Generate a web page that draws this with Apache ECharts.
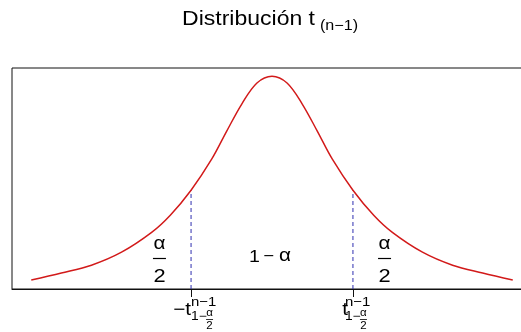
<!DOCTYPE html>
<html>
<head>
<meta charset="utf-8">
<script src="https://cdn.jsdelivr.net/npm/echarts@6/dist/echarts.min.js"></script>
<style>
  html, body { margin: 0; padding: 0; background: #ffffff; }
  #chart { width: 521px; height: 332px; }
</style>
</head>
<body>
<div id="chart"></div>
<script>
// t density curve, sampled along the t axis
const tValues = [-4.0, -3.5, -3.0, -2.5, -2.0, -1.69, -1.345, -1.0, -0.75, -0.5, -0.25, 0.0,
                 0.25, 0.5, 0.75, 1.0, 1.345, 1.69, 2.0, 2.5, 3.0, 3.5, 4.0];
const density = [0.0026, 0.016, 0.031, 0.056, 0.094, 0.127, 0.175, 0.235, 0.289, 0.341, 0.381, 0.394,
                 0.381, 0.341, 0.289, 0.235, 0.175, 0.127, 0.094, 0.056, 0.031, 0.016, 0.0026];

// critical values ±t(1-α/2) and the density there
const criticalValues = [-1.345, 1.345];
const criticalDensity = 0.175;

// plotting window (4% padding around the data range)
const xRange = [-4.32, 4.32];
const yRange = [-0.0147, 0.4097];

// where the region labels sit along the t axis
const tailLabelT = [-1.87, 1.87];
const centerLabelT = 0;

const FONT = '"Liberation Sans", Arial, sans-serif';
const SX = 1.15; // horizontal text stretch
const chart = echarts.init(document.getElementById('chart'), null, { renderer: 'canvas' });

const curveData = tValues.map((t, i) => [t, density[i]]);
const dashedSeries = criticalValues.map(c => ({
  type: 'line',
  data: [[c, yRange[0]], [c, criticalDensity]],
  symbol: 'none',
  silent: true,
  lineStyle: { color: '#2f2fb0', width: 1, type: [4, 3] },
  z: 3
}));

chart.setOption({
  animation: false,
  backgroundColor: '#ffffff',
  grid: {
    left: 12, right: -11, top: 68, bottom: 43,
    outerBoundsMode: 'none', containLabel: false,
    show: true, borderColor: '#111111', borderWidth: 1, backgroundColor: 'transparent'
  },
  xAxis: {
    type: 'value', min: xRange[0], max: xRange[1],
    axisLine: { show: true, onZero: false, lineStyle: { color: '#111111', width: 1 } },
    axisTick: { show: true, customValues: criticalValues, length: 8, lineStyle: { color: '#111111', width: 1 } },
    axisLabel: { show: false },
    splitLine: { show: false }
  },
  yAxis: {
    type: 'value', min: yRange[0], max: yRange[1], show: false,
    splitLine: { show: false }
  },
  series: [
    {
      type: 'line',
      data: curveData,
      symbol: 'none',
      smooth: 0.35,
      silent: true,
      lineStyle: { color: '#d21a1a', width: 1.5 },
      z: 4
    },
    ...dashedSeries
  ]
});

const px = (t, d) => chart.convertToPixel({ gridIndex: 0 }, [t, d]);

function txt(x, y, text, size, align) {
  return {
    type: 'text', x: x, y: y, scaleX: SX, silent: true,
    style: { text: text, fill: '#000000', font: size + 'px ' + FONT, align: align || 'center', verticalAlign: 'middle' }
  };
}
function bar(x1, x2, y, w) {
  return { type: 'line', silent: true, shape: { x1: x1, y1: y, x2: x2, y2: y }, style: { stroke: '#000000', lineWidth: w || 1 } };
}

const graphics = [];

// title with subscript
graphics.push(txt(315, 19, 'Distribución t', 20, 'right'));
graphics.push(txt(320, 26, '(n\u22121)', 14, 'left'));

// region labels α/2, 1 − α, α/2
tailLabelT.forEach(t => {
  const c = px(t, 0)[0];
  graphics.push(txt(c, 244, '\u03b1', 18, 'center'));
  graphics.push(bar(c - 6.5, c + 6.5, 258.5, 1.2));
  graphics.push(txt(c, 276.5, '2', 19, 'center'));
});
const cx = px(centerLabelT, 0)[0];
graphics.push(txt(cx - 17.5, 257, '1', 17, 'center'));
graphics.push(txt(cx - 3.5, 257, '\u2212', 16, 'center'));
graphics.push(txt(cx + 13, 256, '\u03b1', 18, 'center'));

// tick labels: −t and t with superscript n−1 and subscript 1−α/2
criticalValues.forEach(v => {
  const c = px(v, yRange[0])[0];
  const negative = v < 0;
  const baseRight = negative ? c : c - 5;
  const scriptLeft = negative ? c : c - 8;
  graphics.push(txt(baseRight, 310, negative ? '\u2212t' : 't', 18, 'right'));
  graphics.push(txt(scriptLeft, 302, 'n\u22121', 13, 'left'));
  graphics.push(txt(scriptLeft, 317, '1\u2212', 12, 'left'));
  graphics.push(txt(scriptLeft + 18.5, 313.5, '\u03b1', 10, 'center'));
  graphics.push(bar(scriptLeft + 15, scriptLeft + 22, 319.5, 0.8));
  graphics.push(txt(scriptLeft + 18.5, 326, '2', 10, 'center'));
});

chart.setOption({ graphic: graphics });
</script>
</body>
</html>
